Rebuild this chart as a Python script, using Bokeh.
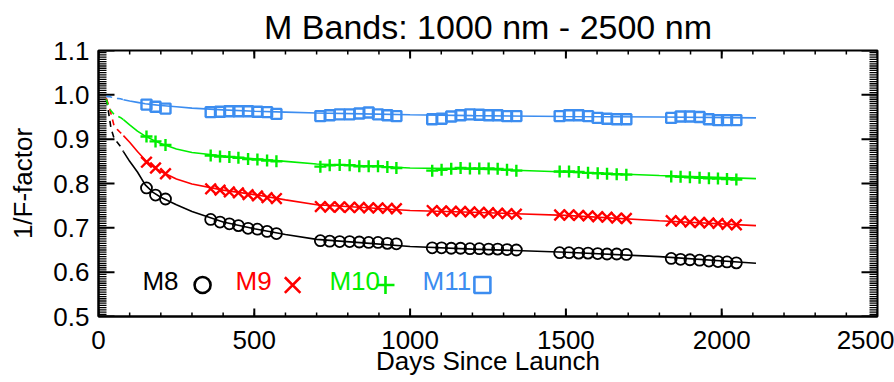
import numpy as np
from bokeh.plotting import figure
from bokeh.models import Range1d, FixedTicker, ColumnDataSource
from bokeh.embed import file_html
from bokeh.resources import INLINE
from bokeh.core.properties import value

# ---------------- data ----------------
days = [154, 183, 215,
        360, 390, 420, 449, 480, 510, 541, 571,
        712, 742, 774, 806, 837, 867, 897, 927, 956,
        1071, 1101, 1132, 1162, 1192, 1222, 1252, 1281, 1311, 1341,
        1480, 1510, 1541, 1571, 1602, 1632, 1663, 1694,
        1838, 1868, 1898, 1929, 1959, 1988, 2017, 2047]

m8 = [0.790, 0.774, 0.765,
      0.719, 0.713, 0.709, 0.705, 0.699, 0.697, 0.692, 0.687,
      0.671, 0.670, 0.669, 0.669, 0.668, 0.667, 0.667, 0.665, 0.664,
      0.655, 0.655, 0.654, 0.654, 0.653, 0.653, 0.652, 0.652, 0.651, 0.650,
      0.644, 0.644, 0.643, 0.643, 0.642, 0.641, 0.641, 0.640,
      0.631, 0.629, 0.628, 0.627, 0.625, 0.624, 0.623, 0.621]

m9 = [0.848, 0.835, 0.822,
      0.788, 0.785, 0.781, 0.779, 0.775, 0.772, 0.768, 0.766,
      0.748, 0.747, 0.747, 0.746, 0.746, 0.745, 0.745, 0.744, 0.743,
      0.739, 0.738, 0.737, 0.737, 0.736, 0.735, 0.734, 0.733, 0.732, 0.731,
      0.729, 0.729, 0.728, 0.727, 0.725, 0.724, 0.722, 0.721,
      0.716, 0.715, 0.713, 0.712, 0.711, 0.710, 0.708, 0.707]

m10 = [0.906, 0.895, 0.887,
       0.863, 0.861, 0.860, 0.858, 0.855, 0.854, 0.852, 0.850,
       0.838, 0.841, 0.842, 0.841, 0.839, 0.839, 0.839, 0.837, 0.835,
       0.829, 0.831, 0.833, 0.835, 0.834, 0.834, 0.834, 0.833, 0.831, 0.829,
       0.827, 0.827, 0.826, 0.824, 0.823, 0.822, 0.821, 0.820,
       0.816, 0.815, 0.814, 0.813, 0.812, 0.811, 0.810, 0.809]

m11 = [0.978, 0.973, 0.969,
       0.961, 0.962, 0.963, 0.963, 0.963, 0.962, 0.961, 0.957,
       0.952, 0.954, 0.956, 0.956, 0.958, 0.960, 0.956, 0.954, 0.952,
       0.945, 0.946, 0.951, 0.954, 0.956, 0.955, 0.954, 0.954, 0.952, 0.952,
       0.952, 0.954, 0.954, 0.952, 0.948, 0.946, 0.945, 0.945,
       0.948, 0.951, 0.951, 0.950, 0.945, 0.943, 0.943, 0.943]

# fitted curves (dashed up to day 80, solid after)
fit_days = [25, 30, 35, 40, 50, 60, 70, 80, 100, 125, 150, 175, 200, 250, 300,
            400, 500, 600, 700, 850, 1000, 1200, 1500, 1800, 2110]
fit_m8 = [0.990, 0.972, 0.948, 0.925, 0.902, 0.893, 0.884, 0.872, 0.850, 0.826,
          0.797, 0.780, 0.769, 0.752, 0.737, 0.713, 0.698, 0.685, 0.674, 0.666,
          0.658, 0.652, 0.645, 0.635, 0.620]
fit_m9 = [0.992, 0.982, 0.972, 0.958, 0.930, 0.922, 0.915, 0.908, 0.893, 0.872,
          0.853, 0.838, 0.827, 0.810, 0.799, 0.785, 0.775, 0.763, 0.752, 0.746,
          0.739, 0.735, 0.728, 0.716, 0.705]
fit_m10 = [0.990, 0.978, 0.970, 0.964, 0.956, 0.952, 0.949, 0.944, 0.932, 0.918,
           0.907, 0.898, 0.890, 0.878, 0.870, 0.862, 0.856, 0.850, 0.844, 0.840,
           0.835, 0.833, 0.826, 0.818, 0.811]
fit_m11 = [0.997, 0.996, 0.996, 0.995, 0.994, 0.992, 0.991, 0.989, 0.986, 0.983,
           0.980, 0.978, 0.976, 0.973, 0.970, 0.966, 0.963, 0.961, 0.959, 0.957,
           0.955, 0.953, 0.951, 0.950, 0.948]
dash_end_day = 80

band_names = ["M8", "M9", "M10", "M11"]
band_colors = ["black", "#FF0000", "#00EE00", "#3C8DF0"]

x_ticks = [0, 500, 1000, 1500, 2000, 2500]
x_tick_labels = ["0", "500", "1000", "1500", "2000", "2500"]
y_ticks = [0.5, 0.6, 0.7, 0.8, 0.9, 1.0, 1.1]
y_tick_labels = ["0.5", "0.6", "0.7", "0.8", "0.9", "1.0", "1.1"]

X0, X1 = 0, 2500
Y0, Y1 = 0.5, 1.1

# ---------------- figure ----------------
W, H = 894, 382
BL, BR, BT, BB = 98, 17, 48, 66
FONT = "Liberation Sans"
p = figure(width=W, height=H, x_range=Range1d(X0, X1), y_range=Range1d(Y0, Y1),
           output_backend="svg", toolbar_location=None,
           min_border_left=BL, min_border_right=BR, min_border_top=BT, min_border_bottom=BB)
p.background_fill_color = "white"
p.border_fill_color = "white"
p.outline_line_color = "black"
p.outline_line_width = 2
p.xgrid.visible = False
p.ygrid.visible = False

p.title.text = "M Bands: 1000 nm - 2500 nm"
p.title.text_font = FONT
p.title.text_font_size = "34px"
p.title.text_font_style = "normal"
p.title.text_color = "black"
p.title.align = "center"
p.title.standoff = 10
p.title.offset = 5

x_minor = [float(v) for v in range(X0, X1 + 1, 100)]
y_minor = [round(float(v), 4) for v in np.arange(Y0, Y1 + 0.0001, 0.005)]
x_over = {t: l for t, l in zip(x_ticks, x_tick_labels)}
y_over = {t: l for t, l in zip(y_ticks, y_tick_labels)}

def style_axis(ax):
    ax.axis_line_color = "black"
    ax.axis_line_width = 2
    ax.major_tick_in = 0
    ax.major_tick_out = 0
    ax.minor_tick_in = 0
    ax.minor_tick_out = 0
    ax.major_tick_line_color = None
    ax.minor_tick_line_color = None
    ax.major_label_text_font = FONT
    ax.major_label_text_font_size = "26px"
    ax.major_label_text_color = "black"
    ax.axis_label_text_font = FONT
    ax.axis_label_text_font_size = "26px"
    ax.axis_label_text_font_style = "normal"
    ax.axis_label_text_color = "black"

xa = p.xaxis[0]
xa.ticker = FixedTicker(ticks=x_ticks, minor_ticks=x_minor)
xa.major_label_overrides = x_over
style_axis(xa)
xa.major_label_standoff = 14
xa.axis_label = "Days Since Launch"
xa.axis_label_standoff = -6

ya = p.yaxis[0]
ya.ticker = FixedTicker(ticks=y_ticks, minor_ticks=y_minor)
ya.major_label_overrides = y_over
style_axis(ya)
ya.major_label_standoff = 9
ya.axis_label = "1/F-factor"
ya.axis_label_standoff = 12

# ---------------- inward tick marks on all four sides ----------------
# short "dash" markers whose centres sit half a tick length inside the frame edge
fw = W - BL - BR
fh = H - BT - BB
dxpp = (X1 - X0) / fw
dypp = (Y1 - Y0) / fh

def side_ticks(edge, vals, length_px, side, width):
    n = len(vals)
    half = 0.5 * length_px
    if side == "left":
        xs, ys, ang = [edge + half * dxpp] * n, vals, 0.0
    elif side == "right":
        xs, ys, ang = [edge - half * dxpp] * n, vals, 0.0
    elif side == "bottom":
        xs, ys, ang = vals, [edge + half * dypp] * n, np.pi / 2
    else:
        xs, ys, ang = vals, [edge - half * dypp] * n, np.pi / 2
    p.scatter(x=xs, y=ys, marker="dash", size=length_px, angle=ang,
              line_color="black", line_width=width)

side_ticks(X0, y_minor, 8, "left", 1.3)
side_ticks(X1, y_minor, 8, "right", 1.3)
side_ticks(X0, y_ticks, 16, "left", 2)
side_ticks(X1, y_ticks, 16, "right", 2)
side_ticks(Y0, x_minor, 4, "bottom", 1.5)
side_ticks(Y1, x_minor, 4, "top", 1.5)
side_ticks(Y0, x_ticks, 8, "bottom", 2)
side_ticks(Y1, x_ticks, 8, "top", 2)

# ---------------- glyphs ----------------
fits = [fit_m8, fit_m9, fit_m10, fit_m11]
fd = np.array(fit_days)
for fv, col in zip(fits, band_colors):
    fv = np.array(fv)
    dmask = fd <= dash_end_day
    smask = fd >= dash_end_day
    p.line(fd[dmask], fv[dmask], line_color=col, line_width=1.6, line_dash="6 5")
    p.line(fd[smask], fv[smask], line_color=col, line_width=1.6)

src = ColumnDataSource(dict(d=days, m8=m8, m9=m9, m10=m10, m11=m11))
p.scatter("d", "m8", source=src, marker="circle", size=11, fill_color=None,
          line_color=band_colors[0], line_width=1.8)
p.scatter("d", "m9", source=src, marker="x", size=15, line_color=band_colors[1], line_width=2.4)
p.scatter("d", "m10", source=src, marker="cross", size=12, line_color=band_colors[2], line_width=2.4)
p.scatter("d", "m11", source=src, marker="square", size=10, fill_color=None,
          line_color=band_colors[3], line_width=2.4)

# ---------------- legend (in-plot labels) ----------------
leg_text_x = [141, 440, 741, 1040]
leg_text_y = 0.580
leg_mark_x = [334, 623, 921, 1232]
leg_mark_y = 0.571
leg_markers = ["circle", "x", "cross", "square"]
leg_sizes = [16, 22, 18, 16]
for name, col, tx, mx, mk, sz in zip(band_names, band_colors, leg_text_x, leg_mark_x, leg_markers, leg_sizes):
    p.text(x=[tx], y=[leg_text_y], text=[name], text_color=col, text_font=value(FONT),
           text_font_size="26px", text_baseline="middle", text_align="left")
    p.scatter(x=[mx], y=[leg_mark_y], marker=mk, size=sz, fill_color=None,
              line_color=col, line_width=2.6)

open("out.html", "w").write(file_html(p, INLINE))
